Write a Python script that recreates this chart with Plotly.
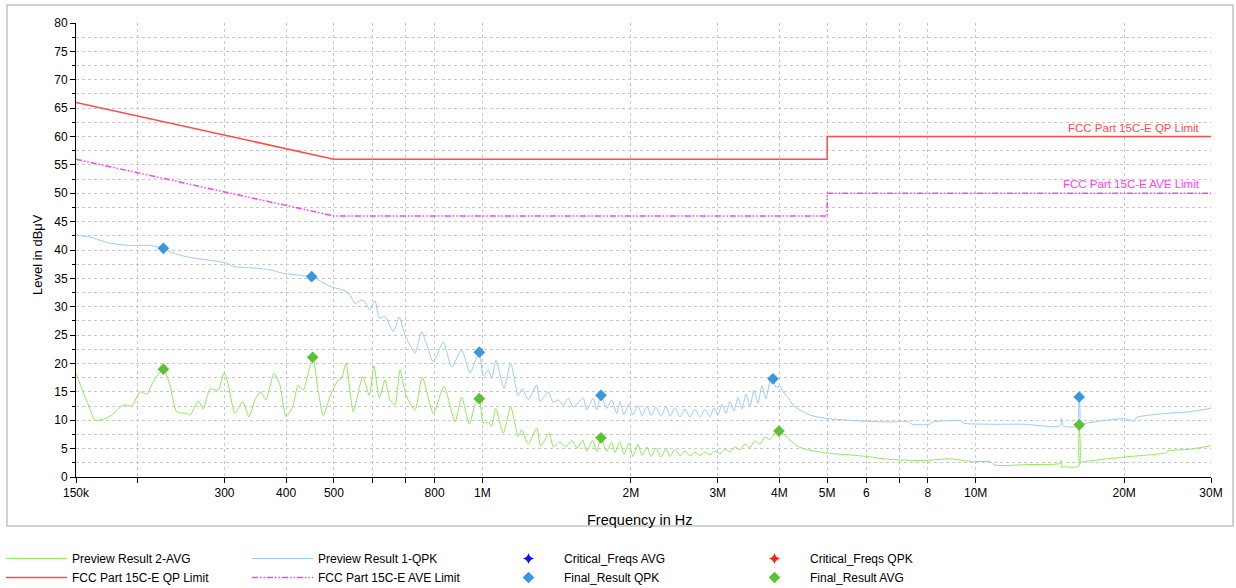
import numpy as np
import plotly.graph_objects as go

# ---------------- data (frequencies in MHz, levels in dBuV) ----------------
qpk_freq_mhz = [
    0.150, 0.1516, 0.1601, 0.1639, 0.1758, 0.1930, 0.2119, 0.2255, 0.2326, 0.2515,
    0.2847, 0.3031, 0.3126, 0.3486, 0.3710, 0.3947, 0.4333, 0.4507, 0.4648, 0.4909,
    0.5144, 0.5265, 0.5389, 0.5517, 0.5692, 0.5780, 0.5917, 0.6057, 0.6179, 0.6346,
    0.6597, 0.6784, 0.6967, 0.7300, 0.7532, 0.7710, 0.7951, 0.8331, 0.8664, 0.9078,
    0.9437, 0.9659, 0.9855, 1.0041, 1.0278, 1.0443, 1.0655, 1.1060, 1.1411, 1.1823,
    1.2046, 1.2389, 1.2884, 1.3084, 1.3602, 1.3923, 1.4250, 1.4587, 1.4930, 1.5283,
    1.6013, 1.6269, 1.6779, 1.7047, 1.7393, 1.7863, 1.8285, 1.8717, 1.9008,
    1.9365, 1.9823, 2.0196, 2.0673, 2.1063, 2.1560, 2.1966, 2.2485, 2.3016, 2.3559,
    2.4003, 2.4570, 2.5149, 2.5743, 2.6351, 2.6973, 2.7609, 2.8262, 2.8928, 2.9474,
    3.0029, 3.0596, 3.1173, 3.1761, 3.2360, 3.2969, 3.3590, 3.4224, 3.4869, 3.5526,
    3.6197, 3.6879, 3.7574, 3.8282, 3.8822, 3.9369, 4.0112, 4.0868, 4.1637, 4.2422,
    4.3223, 4.4037, 4.6140, 4.8345, 5.1369, 5.5607, 6.0192, 6.7005, 7.3566, 7.4153,
    8.0771, 8.1911, 9.3674, 9.4376, 10.691, 12.469, 14.819, 14.937, 15.049, 16.190,
    16.215, 16.240, 17.046, 19.915, 21.033, 21.201, 24.386, 27.186, 30.0,
]
qpk_level = [
    43.0, 42.6, 42.3, 42.0, 41.2, 40.8, 40.8, 40.3, 39.7, 38.8,
    38.1, 37.7, 37.1, 36.8, 36.5, 35.9, 35.5, 35.3, 34.7, 33.6,
    33.1, 32.8, 32.1, 30.6, 31.2, 30.9, 29.4, 31.1, 28.0, 28.3,
    25.6, 28.2, 25.0, 21.9, 25.6, 23.3, 20.3, 23.8, 19.4, 22.4,
    18.3, 20.3, 22.0, 17.8, 18.9, 17.4, 20.6, 15.6, 20.1, 14.3,
    15.6, 13.6, 16.2, 13.3, 15.0, 13.1, 13.6, 12.7, 13.9, 12.3,
    13.9, 11.8, 13.9, 11.8, 14.3, 12.1, 13.6, 11.2, 13.3,
    11.0, 12.9, 10.9, 12.6, 10.8, 12.5, 10.8, 12.3, 10.7, 12.4,
    10.7, 12.2, 10.6, 12.0, 10.6, 11.9, 10.6, 11.9, 10.6, 12.2,
    10.9, 12.8, 11.2, 13.3, 11.6, 14.0, 12.0, 14.6, 12.5, 15.3,
    13.0, 16.1, 13.8, 16.8, 17.3, 15.8, 16.0, 14.8, 14.0, 13.0,
    12.2, 11.8, 10.9, 10.5, 10.2, 10.0, 9.8, 9.7, 9.7, 9.3,
    9.3, 9.7, 9.9, 9.5, 9.3, 9.3, 9.0, 10.3, 9.0, 9.0,
    14.1, 9.4, 9.6, 10.3, 9.9, 10.5, 11.2, 11.5, 12.1,
]

avg_freq_mhz = [
    0.150, 0.1540, 0.1589, 0.1639, 0.1704, 0.1772, 0.1871, 0.1945, 0.2022, 0.2087,
    0.2152, 0.2255, 0.2326, 0.2400, 0.2515, 0.2554, 0.2655, 0.2717, 0.2804, 0.2914,
    0.2993, 0.3054, 0.3151, 0.3266, 0.3363, 0.3459, 0.3552, 0.3641, 0.3780, 0.3887,
    0.3997, 0.4124, 0.4234, 0.4333, 0.4528, 0.4648, 0.4758, 0.4909, 0.5103, 0.5185,
    0.5290, 0.5473, 0.5719, 0.5897, 0.6028, 0.6179, 0.6346, 0.6496, 0.6649, 0.6806,
    0.7000, 0.7300, 0.7553, 0.7951, 0.8359, 0.8799, 0.9078, 0.9406, 0.9659, 0.9855,
    1.0041, 1.0278, 1.0443, 1.0640, 1.1024, 1.1411, 1.1823, 1.2012, 1.2389, 1.2884,
    1.3127, 1.3665, 1.3923, 1.4363, 1.4751, 1.5169, 1.5571, 1.5969, 1.6269, 1.6732,
    1.7047, 1.7393, 1.7863, 1.8285, 1.8569, 1.9008,
    1.9365, 1.9823, 2.0196, 2.0673, 2.1063, 2.1560, 2.1966, 2.2485, 2.3016, 2.3559,
    2.4003, 2.4570, 2.5149, 2.5743, 2.6351, 2.6973, 2.7609, 2.8262, 2.8928, 2.9612,
    3.0311, 3.1028, 3.1761, 3.2511, 3.3278, 3.4064, 3.4869, 3.5693, 3.6536, 3.7400,
    3.8282, 3.9186, 3.9926, 4.0677, 4.2027, 4.3425, 4.5077, 4.7673, 5.1369, 5.5607,
    6.0192, 6.3951, 6.7005, 7.8282, 8.8695, 9.8877, 10.691, 10.943, 12.883, 14.819,
    14.900, 14.937, 15.049, 16.190, 16.215, 16.240, 16.521, 19.915, 24.386, 24.500,
    27.186, 30.0,
]
avg_level = [
    18.3, 15.6, 12.7, 10.0, 10.2, 10.9, 12.7, 12.5, 15.0, 14.6,
    16.8, 19.0, 16.2, 11.5, 11.2, 10.9, 13.4, 12.0, 15.5, 15.3,
    18.4, 16.2, 11.2, 13.3, 10.6, 13.6, 15.0, 13.6, 18.3, 16.2,
    10.6, 12.4, 16.2, 15.3, 21.1, 15.0, 10.8, 14.2, 17.1, 17.4,
    20.1, 11.5, 17.7, 14.4, 19.6, 13.9, 17.1, 13.6, 12.7, 18.9,
    14.4, 11.8, 17.6, 11.2, 16.0, 9.7, 14.1, 9.3, 12.7, 13.8,
    9.5, 9.7, 8.9, 12.1, 7.7, 12.4, 7.1, 8.3, 5.8, 8.6,
    5.5, 7.7, 5.3, 6.2, 5.3, 6.4, 5.1, 6.5, 4.5, 6.5,
    4.5, 6.9, 4.5, 6.2, 4.3, 6.2,
    4.0, 6.0, 3.6, 5.8, 3.8, 5.3, 3.6, 5.1, 3.5, 5.0,
    3.6, 4.9, 3.7, 4.6, 3.7, 4.4, 3.8, 4.4, 3.9, 4.6,
    4.1, 4.9, 4.4, 5.3, 4.8, 5.8, 5.2, 6.4, 5.8, 7.1,
    6.6, 7.8, 8.1, 7.6, 6.5, 5.5, 4.9, 4.5, 4.1, 3.9,
    3.6, 3.3, 3.1, 2.9, 3.2, 2.7, 2.7, 2.1, 2.2, 2.4,
    3.0, 1.7, 1.8, 1.9, 9.2, 2.6, 2.7, 3.5, 4.3, 4.6,
    4.9, 5.5,
]

qp_limit_freq_mhz = [0.15, 0.5, 5.0, 5.0, 30.0]
qp_limit_level = [66.0, 56.0, 56.0, 60.0, 60.0]
ave_limit_freq_mhz = [0.15, 0.5, 5.0, 5.0, 30.0]
ave_limit_level = [56.0, 46.0, 46.0, 50.0, 50.0]

final_qpk_freq_mhz = [0.2255, 0.4507, 0.9855, 1.7393, 3.8822, 16.215]
final_qpk_level = [40.3, 35.3, 22.0, 14.4, 17.3, 14.1]
final_avg_freq_mhz = [0.2255, 0.4528, 0.9855, 1.7393, 3.9926, 16.215]
final_avg_level = [19.0, 21.1, 13.8, 6.9, 8.1, 9.2]

x_tick_hz = [150e3, 200e3, 300e3, 400e3, 500e3, 600e3, 700e3, 800e3, 1e6,
             2e6, 3e6, 4e6, 5e6, 6e6, 7e6, 8e6, 10e6, 20e6, 30e6]
x_tick_text = ["150k", "", "300", "400", "500", "", "", "800", "1M",
               "2M", "3M", "4M", "5M", "6", "", "8", "10M", "20M", "30M"]
y_tick_vals = list(range(0, 81, 5))

MHZ = 1e6
def hz(v):
    return np.array(v) * MHZ

FONT = "Liberation Sans, Arial, sans-serif"

fig = go.Figure()

fig.add_trace(go.Scatter(x=hz(avg_freq_mhz), y=avg_level, mode="lines",
                         name="Preview Result 2-AVG", legendrank=1,
                         line=dict(color="#8FEA5A", width=1, shape="spline",
                                   smoothing=0.6)))
fig.add_trace(go.Scatter(x=hz(qpk_freq_mhz), y=qpk_level, mode="lines",
                         name="Preview Result 1-QPK", legendrank=2,
                         line=dict(color="#9CCBF7", width=1, shape="spline",
                                   smoothing=0.6)))
fig.add_trace(go.Scatter(x=hz(qp_limit_freq_mhz), y=qp_limit_level, mode="lines",
                         name="FCC Part 15C-E QP Limit", legendrank=5,
                         line=dict(color="#FF4B4B", width=1.5)))
fig.add_trace(go.Scatter(x=hz(ave_limit_freq_mhz), y=ave_limit_level, mode="lines",
                         name="FCC Part 15C-E AVE Limit", legendrank=6,
                         line=dict(color="#FF40FF", width=1.5,
                                   dash="6px,2px,1.5px,2px,1.5px,2px")))
fig.add_trace(go.Scatter(x=[None], y=[None], mode="markers",
                         name="Critical_Freqs AVG", legendrank=3,
                         marker=dict(symbol="star-diamond", color="#1010FF", size=8)))
fig.add_trace(go.Scatter(x=[None], y=[None], mode="markers",
                         name="Critical_Freqs QPK", legendrank=4,
                         marker=dict(symbol="star-diamond", color="#FF2020", size=8)))
fig.add_trace(go.Scatter(x=hz(final_qpk_freq_mhz), y=final_qpk_level, mode="markers",
                         name="Final_Result QPK", legendrank=7,
                         marker=dict(symbol="diamond", color="#3A96DD", size=9)))
fig.add_trace(go.Scatter(x=hz(final_avg_freq_mhz), y=final_avg_level, mode="markers",
                         name="Final_Result AVG", legendrank=8,
                         marker=dict(symbol="diamond", color="#5CC232", size=9)))

grid = dict(showgrid=True, gridcolor="#C8C8C8", griddash="dot", gridwidth=1)

fig.update_xaxes(type="log",
                 range=[np.log10(150e3), np.log10(30e6)],
                 tickmode="array", tickvals=x_tick_hz, ticktext=x_tick_text,
                 ticks="outside", ticklen=5, tickcolor="#000", tickwidth=1,
                 showline=True, linecolor="#000", linewidth=1,
                 zeroline=False, automargin=False,
                 tickfont=dict(family=FONT, size=12, color="#000"),
                 **grid)
fig.update_yaxes(range=[0, 80], tickmode="array", tickvals=y_tick_vals,
                 ticks="outside", ticklen=5, tickcolor="#000", tickwidth=1,
                 showline=True, linecolor="#000", linewidth=1, zeroline=False,
                 automargin=False,
                 minor=dict(dtick=2.5, showgrid=True, gridcolor="#C8C8C8",
                            griddash="dot", ticks="outside", ticklen=3,
                            tickcolor="#000"),
                 tickfont=dict(family=FONT, size=12, color="#000"),
                 **grid)

L, R, T, B = 76, 25, 23, 111
W, H = 1236, 588
pw, ph = W - L - R, H - T - B

def px_x(p):
    return (p - L) / pw

def px_y(p):
    return (H - B - p) / ph

fig.add_shape(type="rect", xref="paper", yref="paper",
              x0=px_x(7), x1=px_x(1233), y0=px_y(526), y1=px_y(5),
              line=dict(color="#C4C4C4", width=1.5), layer="below")

fig.add_annotation(text="FCC Part 15C-E QP Limit", x=np.log10(28.8e6), y=61.5,
                   xref="x", yref="y", xanchor="right", yanchor="middle",
                   showarrow=False, font=dict(family=FONT, size=11.5, color="#FF4B4B"))
fig.add_annotation(text="FCC Part 15C-E AVE Limit", x=np.log10(28.7e6), y=51.6,
                   xref="x", yref="y", xanchor="right", yanchor="middle",
                   showarrow=False, font=dict(family=FONT, size=11.5, color="#FF40FF"))
fig.add_annotation(text="Level in dBμV", textangle=-90, x=px_x(37), y=px_y(255),
                   xref="paper", yref="paper", xanchor="center", yanchor="middle",
                   showarrow=False, font=dict(family=FONT, size=13, color="#000"))
fig.add_annotation(text="Frequency in Hz", x=px_x(640), y=px_y(520),
                   xref="paper", yref="paper", xanchor="center", yanchor="middle",
                   showarrow=False, font=dict(family=FONT, size=14.5, color="#000"))

fig.update_layout(
    width=W, height=H,
    margin=dict(l=L, r=R, t=T, b=B, autoexpand=False),
    paper_bgcolor="#FFFFFF", plot_bgcolor="#FFFFFF",
    font=dict(family=FONT, size=12, color="#000"),
    showlegend=True,
    legend=dict(orientation="h", x=px_x(1), y=px_y(544), xanchor="left", yanchor="top",
                entrywidth=170, entrywidthmode="pixels", itemwidth=61,
                traceorder="normal", tracegroupgap=0,
                font=dict(family=FONT, size=12, color="#000"),
                bgcolor="rgba(0,0,0,0)"),
)

fig.write_html(
    "out.html",
    config={"displayModeBar": False},
    post_script="document.body.style.margin='0px';document.body.style.overflow='hidden';",
)
